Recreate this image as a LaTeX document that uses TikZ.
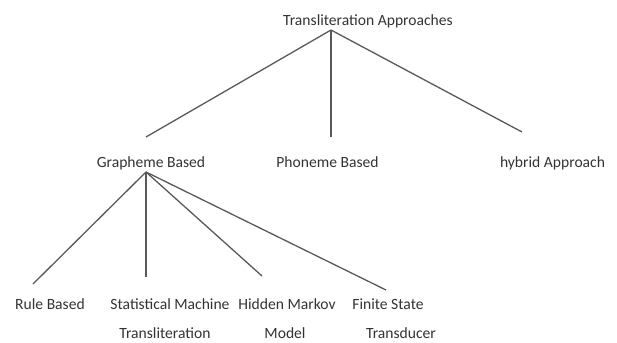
\documentclass[tikz,border=0pt]{standalone}
\usepackage{fontspec}
\setmainfont{Carlito}
\begin{document}
\begin{tikzpicture}[x=1pt,y=-1pt,
  lbl/.style={inner sep=0pt, text=black!80, font=\fontsize{15.6}{18}\selectfont, anchor=base},
  edge/.style={draw=black!65, line width=1.3pt}]
\useasboundingbox (0,0) rectangle (617,342);
% nodes (base positions)
\node[lbl] (root) at (368,26) {Transliteration Approaches};
\node[lbl] (graph) at (151,167) {Grapheme Based};
\node[lbl] (phon) at (327.5,167) {Phoneme Based};
\node[lbl] (hyb) at (552.5,167) {hybrid Approach};
\node[lbl] (rule) at (50,309) {Rule Based};
\node[lbl] (smt1) at (170,309) {Statistical Machine};
\node[lbl] (smt2) at (165,338) {Transliteration};
\node[lbl] (hmm1) at (287,309) {Hidden Markov};
\node[lbl] (hmm2) at (285,338) {Model};
\node[lbl] (fst1) at (388,309) {Finite State};
\node[lbl] (fst2) at (401,338) {Transducer};
% connector end points
\coordinate (rj) at (331,30);
\coordinate (gtop) at (146,137);
\coordinate (ptop) at (331,137);
\coordinate (htop) at (522,132);
\coordinate (gj) at (146,172);
\coordinate (rtop) at (33,284);
\coordinate (stop) at (146,277);
\coordinate (mtop) at (262,276);
\coordinate (ftop) at (386,290);
% connectors
\draw[edge] (rj) -- (gtop);
\draw[edge] (rj) -- (ptop);
\draw[edge] (rj) -- (htop);
\draw[edge] (gj) -- (rtop);
\draw[edge] (gj) -- (stop);
\draw[edge] (gj) -- (mtop);
\draw[edge] (gj) -- (ftop);
\end{tikzpicture}
\end{document}
